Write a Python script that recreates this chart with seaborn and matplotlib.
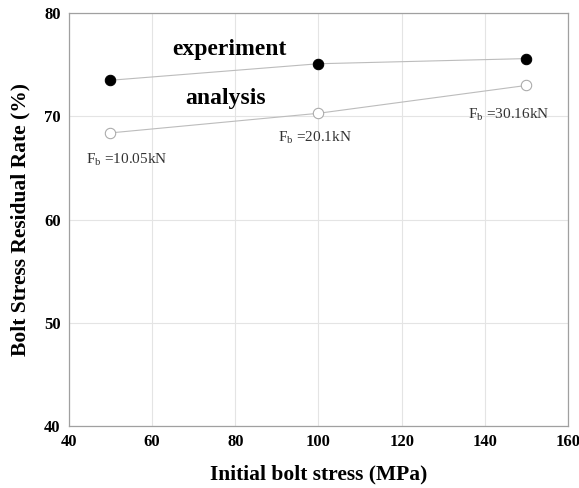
import numpy as np
import pandas as pd
import seaborn as sns
import matplotlib.pyplot as plt

# values
stress = [50, 100, 150]
experiment = [73.5, 75.1, 75.6]
analysis = [68.4, 70.3, 73.0]
force_labels = ["10.05kN", "20.1kN", "30.16kN"]
x_ticks = [40, 60, 80, 100, 120, 140, 160]
y_ticks = [40, 50, 60, 70, 80]

sns.set_style("whitegrid")
plt.rcParams["font.family"] = ["Liberation Serif", "DejaVu Serif"]
plt.rcParams["mathtext.fontset"] = "custom"
plt.rcParams["mathtext.rm"] = "Liberation Serif"
plt.rcParams["text.color"] = "black"
plt.rcParams["axes.labelcolor"] = "black"
plt.rcParams["xtick.color"] = "black"
plt.rcParams["ytick.color"] = "black"

fig = plt.figure(figsize=(5.79, 4.88), dpi=100)
ax = fig.add_axes([0.119, 0.127, 0.862, 0.846])

df = pd.DataFrame({"stress": stress, "experiment": experiment, "analysis": analysis})

sns.lineplot(data=df, x="stress", y="experiment", ax=ax, color="#bcbcbc", lw=0.8,
             marker="o", markersize=7.5, markerfacecolor="black", markeredgecolor="black")
sns.lineplot(data=df, x="stress", y="analysis", ax=ax, color="#bcbcbc", lw=0.8,
             marker="o", markersize=7.5, markerfacecolor="white", markeredgecolor="#a8a8a8")

ax.text(64.8, 76.5, "experiment", fontsize=17, fontweight="bold", va="center")
ax.text(67.9, 71.7, "analysis", fontsize=17, fontweight="bold", va="center")

label_pos = [(44.1, 65.8), (90.3, 67.9), (136.0, 70.2)]
for (lx, ly), lab in zip(label_pos, force_labels):
    ax.text(lx, ly, r"F$_{\rm b}$ =" + lab, fontsize=11, va="center", color="#333333")

ax.set_xlim(40, 160)
ax.set_ylim(40, 80)
ax.set_xticks(x_ticks)
ax.set_yticks(y_ticks)
ax.grid(True, color="#e4e4e4", lw=0.8)
for s in ax.spines.values():
    s.set_color("#a0a0a0")
    s.set_linewidth(0.9)
ax.tick_params(length=0, labelsize=12, pad=6)
for t in ax.get_xticklabels() + ax.get_yticklabels():
    t.set_fontweight("bold")

ax.set_xlabel("Initial bolt stress (MPa)", fontsize=15.5, fontweight="bold", labelpad=10)
ax.set_ylabel("Bolt Stress Residual Rate (%)", fontsize=15.5, fontweight="bold", labelpad=10)

fig.savefig("out.png", dpi=100)
